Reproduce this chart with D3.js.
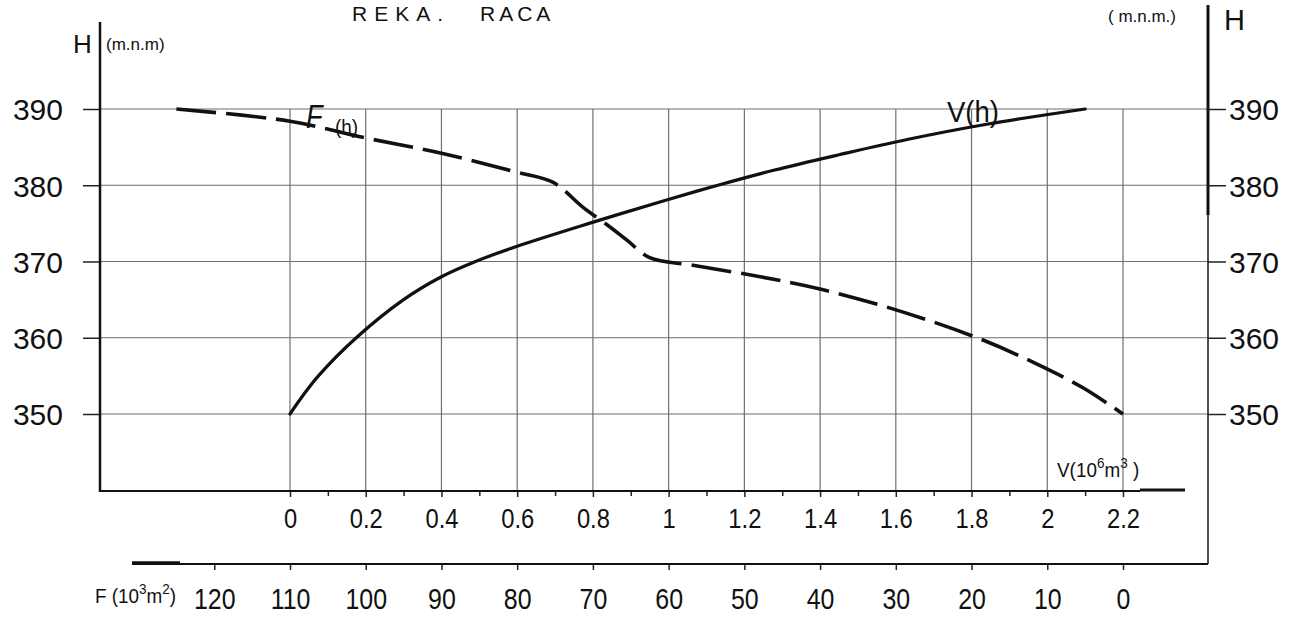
<!DOCTYPE html>
<html>
<head>
<meta charset="utf-8">
<script src="https://cdn.jsdelivr.net/npm/d3@7"></script>
<style>
  body { margin: 0; background: #fff; }
  svg { display: block; }
  text { font-family: "Liberation Sans", Arial, sans-serif; fill: #111; }
</style>
</head>
<body>
<div class="chart"></div>
<script>
var width = 1295, height = 621;

// tick values
var hTicks = [350, 360, 370, 380, 390];
var vTicks = [0, 0.2, 0.4, 0.6, 0.8, 1, 1.2, 1.4, 1.6, 1.8, 2, 2.2];
var vMinor = [0.1, 0.3, 0.5, 0.7, 0.9, 1.1, 1.3, 1.5, 1.7, 1.9, 2.1];
var fTicks = [0, 10, 20, 30, 40, 50, 60, 70, 80, 90, 100, 110, 120];

// V(h) curve : elevation (m) -> volume (10^6 m3)
var vH   = [350, 352, 355, 360, 365, 368, 370, 372, 375, 378, 380, 382, 384, 386, 388, 390];
var vVol = [0, 0.028, 0.075, 0.175, 0.3, 0.4, 0.49, 0.6, 0.79, 0.99, 1.13, 1.28, 1.45, 1.63, 1.84, 2.1];

// F(h) curve : elevation (m) -> area (10^3 m2)
var fH    = [390, 388.4, 386.2, 384.2, 381.7, 380.4, 377.1, 374.5, 372.8, 370.5, 369.5, 368, 366.3, 363.2, 359.7, 356.8, 353.5, 350];
var fArea = [125, 110, 100, 90, 80, 75.3, 71.3, 67.7, 65.5, 62.5, 56.8, 47.9, 39.6, 28.5, 18.5, 11.9, 5.4, 0];

var leftX = 100, rightX = 1208, vAxisY = 491, fAxisY = 564;

var y = d3.scaleLinear().domain([350, 390]).range([414, 109]);
var xV = d3.scaleLinear().domain([0, 2.2]).range([290, 1123]);
var xF = d3.scaleLinear().domain([0, 110]).range([1123, 290]);

var svg = d3.select(".chart").append("svg")
	.attr("width", width).attr("height", height);

//  helper for the narrow drawing lettering
function label(g, x, yy, s, size, anchor, sx) {
	return g.append("text")
		.attr("transform", "translate(" + x + "," + yy + ") scale(" + (sx || 1) + ",1)")
		.attr("text-anchor", anchor || "start")
		.style("font-size", size + "px")
		.text(s);
}

//  grid
var grid = svg.append("g").attr("stroke", "#6f6f6f").attr("stroke-width", 1.2);
grid.selectAll("line.h").data(hTicks).enter().append("line").attr("class", "h")
	.attr("x1", leftX).attr("x2", rightX)
	.attr("y1", function(d) { return y(d); }).attr("y2", function(d) { return y(d); });
grid.selectAll("line.v").data(vTicks).enter().append("line").attr("class", "v")
	.attr("x1", function(d) { return xV(d); }).attr("x2", function(d) { return xV(d); })
	.attr("y1", y(390)).attr("y2", vAxisY);

//  H axes
var axL = svg.append("g").attr("transform", "translate(" + leftX + ",0)")
	.call(d3.axisLeft(y).tickValues(hTicks).tickSize(17).tickPadding(20));
var axR = svg.append("g").attr("transform", "translate(" + rightX + ",0)")
	.call(d3.axisRight(y).tickValues(hTicks).tickSize(18).tickPadding(3));
[axL, axR].forEach(function(a) {
	a.select(".domain").remove();
	a.selectAll(".tick line").attr("stroke", "#222").attr("stroke-width", 1.5);
	a.selectAll(".tick text").style("font-size", "30px").attr("dy", "0.36em");
});

svg.append("line").attr("x1", leftX).attr("x2", leftX).attr("y1", 22).attr("y2", vAxisY + 1)
	.attr("stroke", "#111").attr("stroke-width", 2.5);
svg.append("line").attr("x1", rightX).attr("x2", rightX).attr("y1", 5).attr("y2", 215)
	.attr("stroke", "#111").attr("stroke-width", 3);
svg.append("line").attr("x1", rightX).attr("x2", rightX).attr("y1", 215).attr("y2", fAxisY)
	.attr("stroke", "#222").attr("stroke-width", 1.6);

//  V axis
var axV = svg.append("g").attr("transform", "translate(0," + vAxisY + ")")
	.call(d3.axisBottom(xV).tickValues(vTicks).tickSize(6)
		.tickFormat(function(d) { return String(+d.toFixed(1)); }));
axV.select(".domain").remove();
axV.selectAll(".tick text").attr("y", 37).attr("dy", 0)
	.style("font-size", "27px").attr("transform", "scale(0.88,1)");
var axVm = svg.append("g").attr("transform", "translate(0," + vAxisY + ")")
	.call(d3.axisBottom(xV).tickValues(vMinor).tickSize(5).tickFormat(""));
axVm.select(".domain").remove();
svg.selectAll(".tick line").attr("stroke", "#222").attr("stroke-width", 1.5);

svg.append("line").attr("x1", leftX).attr("x2", 1140).attr("y1", vAxisY).attr("y2", vAxisY)
	.attr("stroke", "#111").attr("stroke-width", 2);
svg.append("line").attr("x1", 1140).attr("x2", 1185).attr("y1", vAxisY - 1).attr("y2", vAxisY - 1)
	.attr("stroke", "#111").attr("stroke-width", 3);

//  F axis
var axF = svg.append("g").attr("transform", "translate(0," + fAxisY + ")")
	.call(d3.axisBottom(xF).tickValues(fTicks).tickSize(6));
axF.select(".domain").remove();
axF.selectAll(".tick line").attr("stroke", "#222").attr("stroke-width", 1.5);
axF.selectAll(".tick text").attr("y", 45).attr("dy", 0)
	.style("font-size", "29px").attr("transform", "scale(0.86,1)");

svg.append("line").attr("x1", 132).attr("x2", rightX).attr("y1", fAxisY).attr("y2", fAxisY)
	.attr("stroke", "#111").attr("stroke-width", 2);
svg.append("line").attr("x1", 132).attr("x2", 180).attr("y1", fAxisY - 1).attr("y2", fAxisY - 1)
	.attr("stroke", "#111").attr("stroke-width", 3.5);

//  curves
var vLine = d3.line().curve(d3.curveCatmullRom.alpha(0.5))
	.x(function(d, i) { return xV(vVol[i]); })
	.y(function(d) { return y(d); });
svg.append("path").attr("d", vLine(vH))
	.attr("fill", "none").attr("stroke", "#111").attr("stroke-width", 3.2)
	.attr("stroke-linecap", "round");

var fLine = d3.line().curve(d3.curveCatmullRom.alpha(0.5))
	.x(function(d, i) { return xF(fArea[i]); })
	.y(function(d) { return y(d); });
svg.append("path").attr("d", fLine(fH))
	.attr("fill", "none").attr("stroke", "#111").attr("stroke-width", 3.6)
	.attr("stroke-dasharray", "40,10").attr("stroke-linecap", "butt");

//  texts
label(svg, 352, 21, "REKA.", 21, "start").style("letter-spacing", "7px");
label(svg, 480, 21, "RACA", 21, "start").style("letter-spacing", "4px");

label(svg, 73, 53, "H", 26, "start");
label(svg, 106, 50, "(m.n.m)", 17, "start");
label(svg, 1108, 22, "( m.n.m.)", 17, "start");
label(svg, 1224, 30, "H", 29, "start");

label(svg, 306, 128, "F", 34, "start", 0.8).style("font-style", "italic");
label(svg, 335, 134, "(h)", 21, "start", 0.9);
label(svg, 947, 122, "V(h)", 29, "start", 0.95);

var vt = label(svg, 1057, 477, "V(10", 21, "start", 0.9);
vt.append("tspan").attr("dy", -9).style("font-size", "15px").text("6");
vt.append("tspan").attr("dy", 9).text("m");
vt.append("tspan").attr("dy", -9).style("font-size", "15px").text("3");
vt.append("tspan").attr("dy", 9).text(" )");

var ft = label(svg, 95, 603, "F (10", 21, "start", 0.9);
ft.append("tspan").attr("dy", -9).style("font-size", "15px").text("3");
ft.append("tspan").attr("dy", 9).text("m");
ft.append("tspan").attr("dy", -9).style("font-size", "15px").text("2");
ft.append("tspan").attr("dy", 9).text(")");
</script>
</body>
</html>
